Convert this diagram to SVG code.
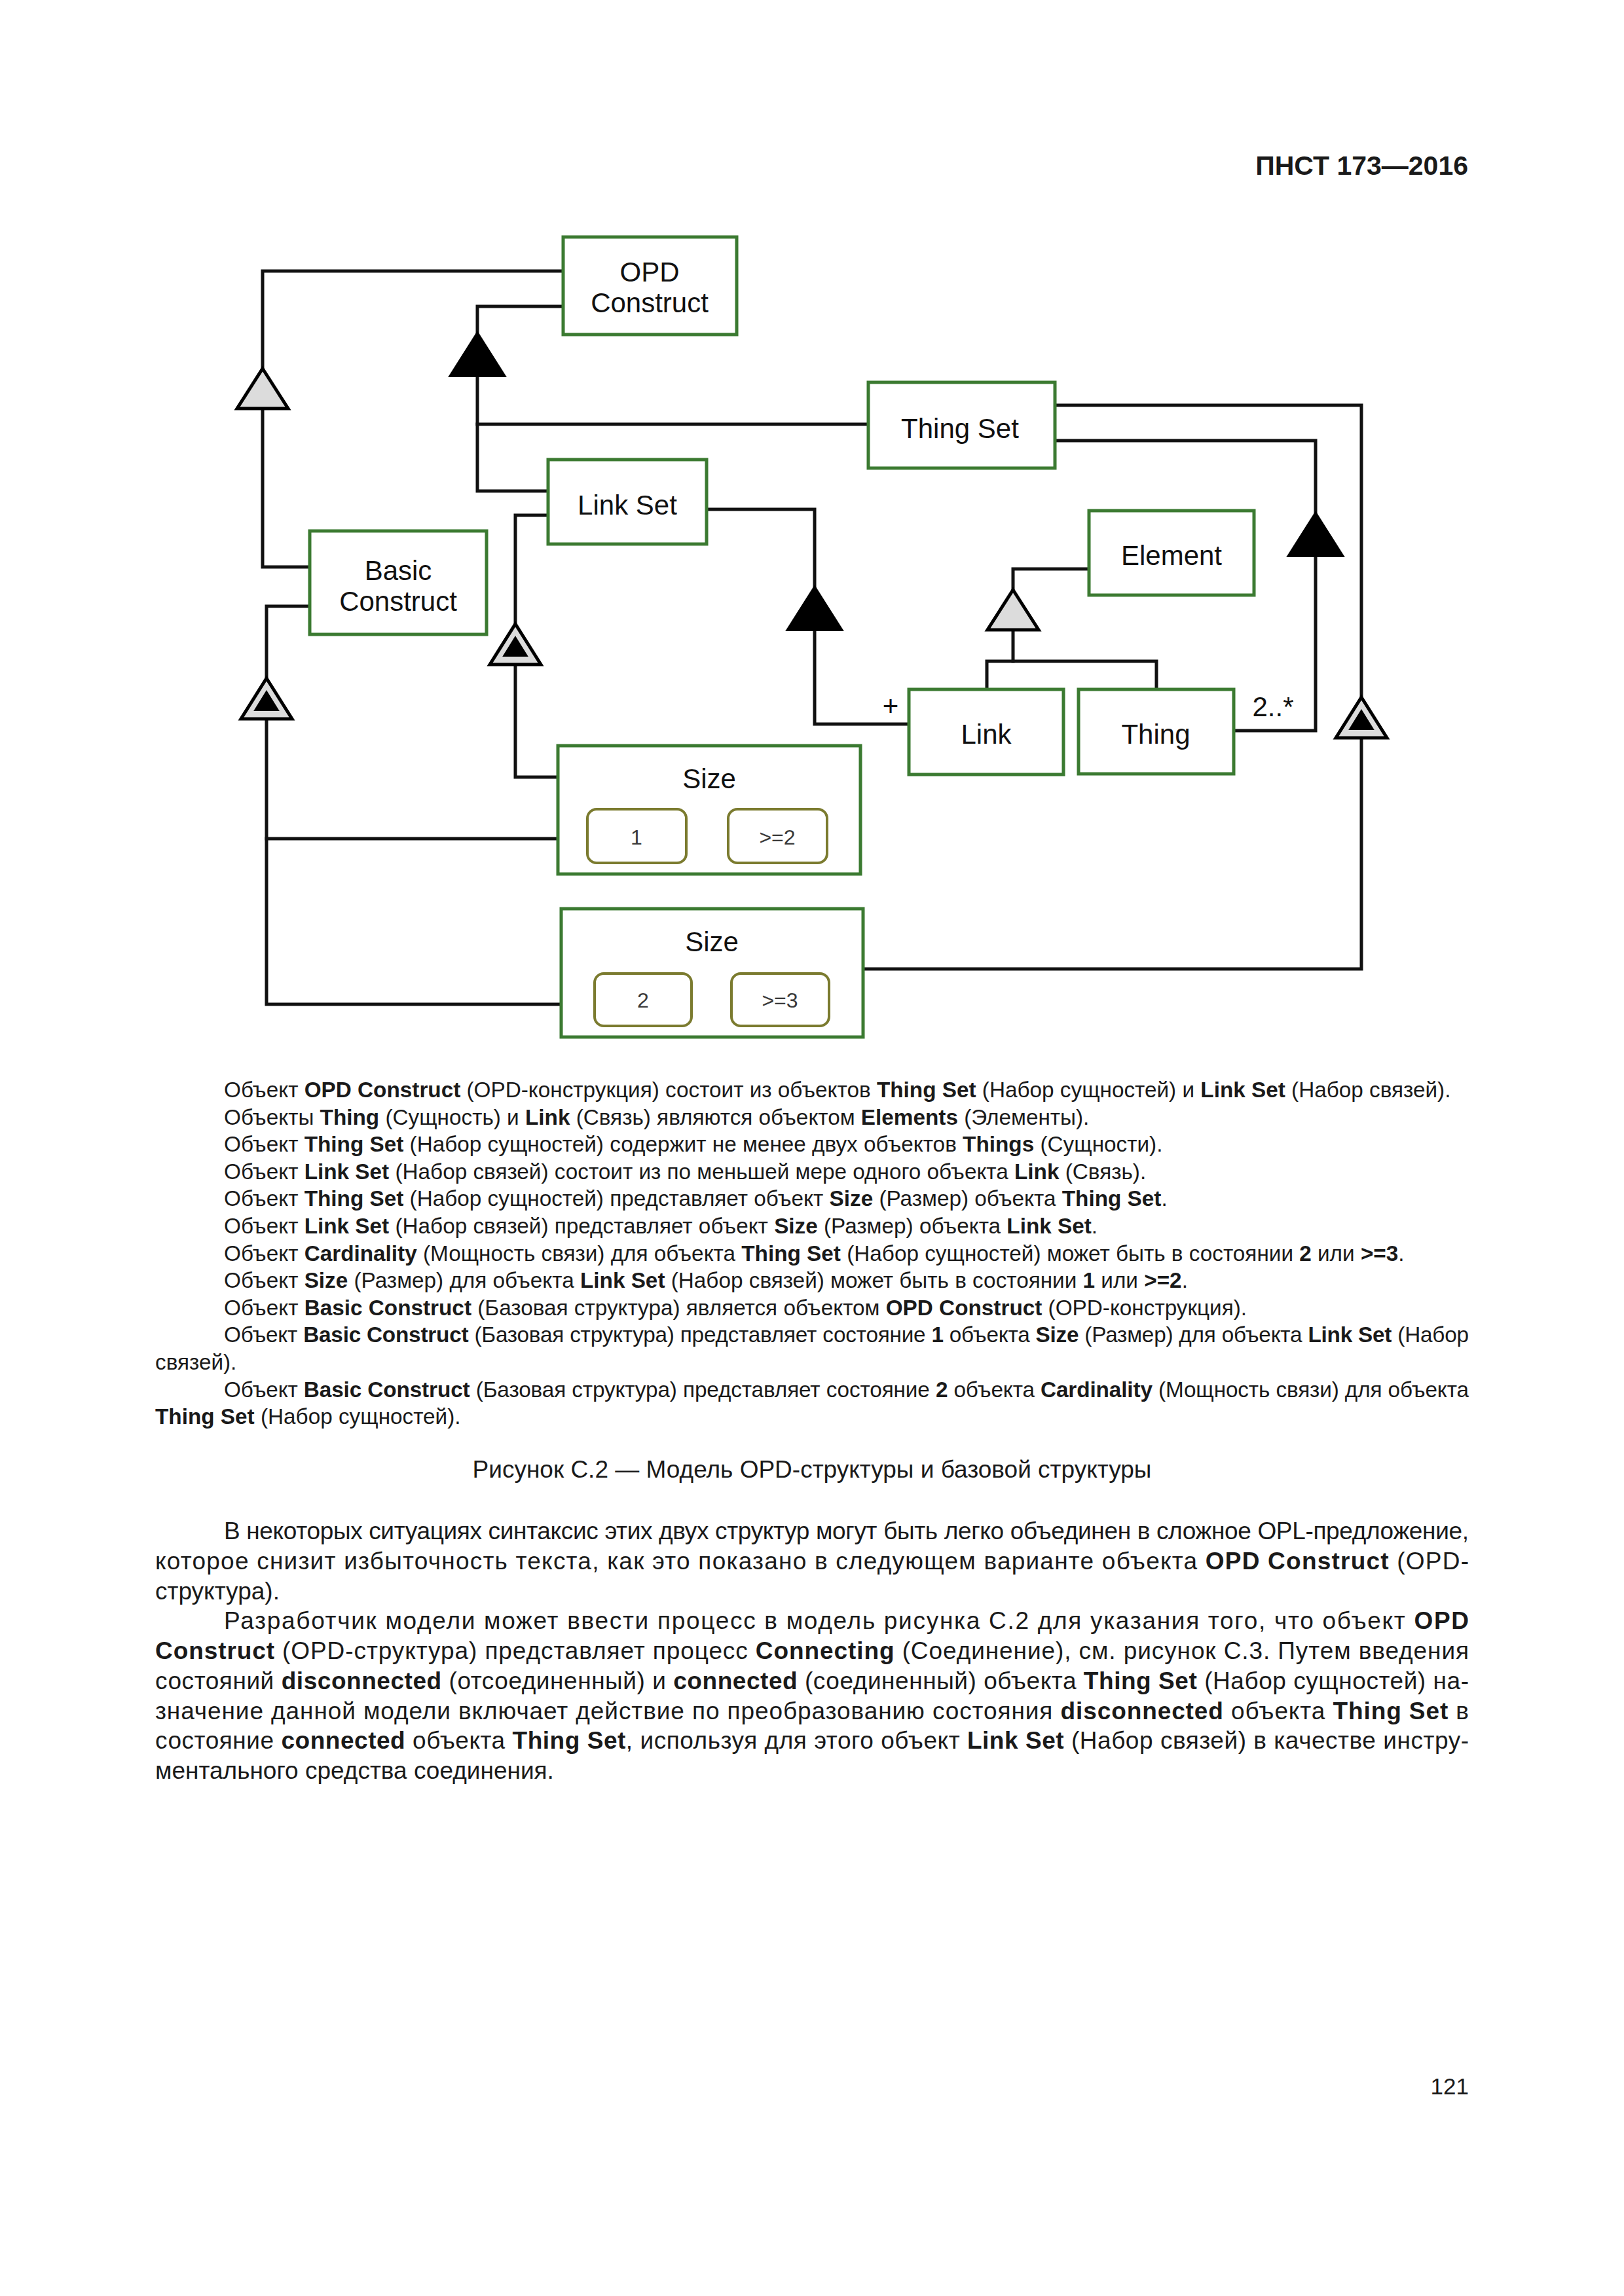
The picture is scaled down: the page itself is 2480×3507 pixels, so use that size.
<svg xmlns="http://www.w3.org/2000/svg" xmlns:xlink="http://www.w3.org/1999/xlink" width="2480" height="3507" viewBox="0 0 2480 3507">
<style>
.box{fill:#fff;stroke:#3b7a31;stroke-width:5}
.state{fill:#fff;stroke:#7b7b2f;stroke-width:4}
.lbl{font-family:"Liberation Sans",Arial,sans-serif;font-size:42px;fill:#111;text-anchor:middle}
.st{font-family:"Liberation Sans",Arial,sans-serif;font-size:32px;fill:#3a3a3a;text-anchor:middle}
.c{fill:none;stroke:#111;stroke-width:5;stroke-linejoin:miter;stroke-linecap:square}
.tb{fill:#000;stroke:#000;stroke-width:2;stroke-linejoin:miter}
.tg{fill:#dcdcdc;stroke:#000;stroke-width:5;stroke-linejoin:miter}
.t{font-family:"Liberation Sans",Arial,sans-serif;font-size:33.3px;fill:#1a1a1a}
.p{font-family:"Liberation Sans",Arial,sans-serif;font-size:37px;fill:#1a1a1a}
.b{font-weight:bold}
</style>
<defs>
<path id="triBlack" d="M0,0 L43,68 L-43,68 Z"/>
<path id="triGrey" d="M0,3 L39,64 L-39,64 Z"/>
<g id="triDouble">
<path class="tg" d="M0,3 L39,65 L-39,65 Z"/>
<path class="tb" d="M0,23 L18,52 L-18,52 Z"/>
</g>
</defs>
<rect width="2480" height="3507" fill="#fff"/>

<text x="2242" y="267" font-family="Liberation Sans, Arial, sans-serif" font-size="41" font-weight="bold" fill="#1a1a1a" text-anchor="end">ПНСТ 173—2016</text>

<g id="connectors">
<path class="c" d="M860,414 H401 V563"/>
<path class="c" d="M401,626 V866 H473"/>
<path class="c" d="M860,468 H729 V510"/>
<path class="c" d="M729,575 V750 H837"/>
<path class="c" d="M729,648 H1326"/>
<path class="c" d="M837,787 H787 V953"/>
<path class="c" d="M787,1016 V1187 H852"/>
<path class="c" d="M1079,778 H1244 V899"/>
<path class="c" d="M1244,962 V1106 H1388"/>
<path class="c" d="M1663,869 H1547 V900"/>
<path class="c" d="M1547,964 V1010"/>
<path class="c" d="M1507,1053 V1010 H1766 V1053"/>
<path class="c" d="M1611,673 H2009 V785"/>
<path class="c" d="M2009,850 V1116 H1884"/>
<path class="c" d="M1611,619 H2079 V1065"/>
<path class="c" d="M2079,1128 V1480 H1318"/>
<path class="c" d="M473,926 H407 V1036"/>
<path class="c" d="M407,1101 V1534 H908"/>
<path class="c" d="M407,1281 H897"/>
<use xlink:href="#triGrey" class="tg" x="401" y="560"/>
<use xlink:href="#triBlack" class="tb" x="729" y="507"/>
<use xlink:href="#triDouble" x="787" y="950"/>
<use xlink:href="#triBlack" class="tb" x="1244" y="895"/>
<use xlink:href="#triGrey" class="tg" x="1547" y="898"/>
<use xlink:href="#triBlack" class="tb" x="2009" y="782"/>
<use xlink:href="#triDouble" x="2079" y="1062"/>
<use xlink:href="#triDouble" x="407" y="1033"/>
<text class="lbl" x="1360" y="1093">+</text>
<text class="lbl" x="1944" y="1094">2..*</text>
</g>

<g id="opd-construct">
<rect class="box" x="860" y="362" width="265" height="149"/>
<text class="lbl" x="992" y="430">OPD</text>
<text class="lbl" x="992" y="477">Construct</text>
</g>
<g id="thing-set">
<rect class="box" x="1326" y="584" width="285" height="131"/>
<text class="lbl" x="1466" y="669">Thing Set</text>
</g>
<g id="link-set">
<rect class="box" x="837" y="702" width="242" height="129"/>
<text class="lbl" x="958" y="786">Link Set</text>
</g>
<g id="basic-construct">
<rect class="box" x="473" y="811" width="270" height="158"/>
<text class="lbl" x="608" y="886">Basic</text>
<text class="lbl" x="608" y="933">Construct</text>
</g>
<g id="element">
<rect class="box" x="1663" y="780" width="252" height="129"/>
<text class="lbl" x="1789" y="863">Element</text>
</g>
<g id="link">
<rect class="box" x="1388" y="1053" width="236" height="130"/>
<text class="lbl" x="1506" y="1136">Link</text>
</g>
<g id="thing">
<rect class="box" x="1647" y="1053" width="237" height="129"/>
<text class="lbl" x="1765" y="1136">Thing</text>
</g>
<g id="size-linkset">
<rect class="box" x="852" y="1139" width="462" height="196"/>
<text class="lbl" x="1083" y="1204">Size</text>
<rect class="state" x="897" y="1236" width="151" height="82" rx="14"/>
<text class="st" x="972" y="1290">1</text>
<rect class="state" x="1112" y="1236" width="151" height="82" rx="14"/>
<text class="st" x="1187" y="1290">&gt;=2</text>
</g>
<g id="size-thingset">
<rect class="box" x="857" y="1388" width="461" height="196"/>
<text class="lbl" x="1087" y="1453">Size</text>
<rect class="state" x="908" y="1487" width="148" height="80" rx="14"/>
<text class="st" x="982" y="1539">2</text>
<rect class="state" x="1117" y="1487" width="149" height="80" rx="14"/>
<text class="st" x="1191" y="1539">&gt;=3</text>
</g>

<g id="legend">
<text class="t" x="342" y="1676">Объект <tspan class="b">OPD Construct</tspan> (OPD-конструкция) состоит из объектов <tspan class="b">Thing Set</tspan> (Набор сущностей) и <tspan class="b">Link Set</tspan> (Набор связей).</text>
<text class="t" x="342" y="1718">Объекты <tspan class="b">Thing</tspan> (Сущность) и <tspan class="b">Link</tspan> (Связь) являются объектом <tspan class="b">Elements</tspan> (Элементы).</text>
<text class="t" x="342" y="1759">Объект <tspan class="b">Thing Set</tspan> (Набор сущностей) содержит не менее двух объектов <tspan class="b">Things</tspan> (Сущности).</text>
<text class="t" x="342" y="1801">Объект <tspan class="b">Link Set</tspan> (Набор связей) состоит из по меньшей мере одного объекта <tspan class="b">Link</tspan> (Связь).</text>
<text class="t" x="342" y="1842">Объект <tspan class="b">Thing Set</tspan> (Набор сущностей) представляет объект <tspan class="b">Size</tspan> (Размер) объекта <tspan class="b">Thing Set</tspan>.</text>
<text class="t" x="342" y="1884">Объект <tspan class="b">Link Set</tspan> (Набор связей) представляет объект <tspan class="b">Size</tspan> (Размер) объекта <tspan class="b">Link Set</tspan>.</text>
<text class="t" x="342" y="1926">Объект <tspan class="b">Cardinality</tspan> (Мощность связи) для объекта <tspan class="b">Thing Set</tspan> (Набор сущностей) может быть в состоянии <tspan class="b">2</tspan> или <tspan class="b">&gt;=3</tspan>.</text>
<text class="t" x="342" y="1967">Объект <tspan class="b">Size</tspan> (Размер) для объекта <tspan class="b">Link Set</tspan> (Набор связей) может быть в состоянии <tspan class="b">1</tspan> или <tspan class="b">&gt;=2</tspan>.</text>
<text class="t" x="342" y="2009">Объект <tspan class="b">Basic Construct</tspan> (Базовая структура) является объектом <tspan class="b">OPD Construct</tspan> (OPD-конструкция).</text>
<text class="t" x="342" y="2050" textLength="1901" lengthAdjust="spacing">Объект <tspan class="b">Basic Construct</tspan> (Базовая структура) представляет состояние <tspan class="b">1</tspan> объекта <tspan class="b">Size</tspan> (Размер) для объекта <tspan class="b">Link Set</tspan> (Набор</text>
<text class="t" x="237" y="2092">связей).</text>
<text class="t" x="342" y="2134" textLength="1901" lengthAdjust="spacing">Объект <tspan class="b">Basic Construct</tspan> (Базовая структура) представляет состояние <tspan class="b">2</tspan> объекта <tspan class="b">Cardinality</tspan> (Мощность связи) для объекта</text>
<text class="t" x="237" y="2175"><tspan class="b">Thing Set</tspan> (Набор сущностей).</text>
</g>

<text class="p" x="1240" y="2257" text-anchor="middle" font-size="37.5">Рисунок С.2 — Модель OPD-структуры и базовой структуры</text>

<g id="paragraph">
<text class="p" x="342" y="2351" textLength="1901" lengthAdjust="spacing">В некоторых ситуациях синтаксис этих двух структур могут быть легко объединен в сложное OPL-предложение,</text>
<text class="p" x="237" y="2397" textLength="2006" lengthAdjust="spacing">которое снизит избыточность текста, как это показано в следующем варианте объекта <tspan class="b">OPD Construct</tspan> (OPD-</text>
<text class="p" x="237" y="2443">структура).</text>
<text class="p" x="342" y="2488" textLength="1901" lengthAdjust="spacing">Разработчик модели может ввести процесс в модель рисунка С.2 для указания того, что объект <tspan class="b">OPD</tspan></text>
<text class="p" x="237" y="2534" textLength="2006" lengthAdjust="spacing"><tspan class="b">Construct</tspan> (OPD-структура) представляет процесс <tspan class="b">Connecting</tspan> (Соединение), см. рисунок С.3. Путем введения</text>
<text class="p" x="237" y="2580" textLength="2006" lengthAdjust="spacing">состояний <tspan class="b">disconnected</tspan> (отсоединенный) и <tspan class="b">connected</tspan> (соединенный) объекта <tspan class="b">Thing Set</tspan> (Набор сущностей) на-</text>
<text class="p" x="237" y="2626" textLength="2006" lengthAdjust="spacing">значение данной модели включает действие по преобразованию состояния <tspan class="b">disconnected</tspan> объекта <tspan class="b">Thing Set</tspan> в</text>
<text class="p" x="237" y="2671" textLength="2006" lengthAdjust="spacing">состояние <tspan class="b">connected</tspan> объекта <tspan class="b">Thing Set</tspan>, используя для этого объект <tspan class="b">Link Set</tspan> (Набор связей) в качестве инстру-</text>
<text class="p" x="237" y="2717">ментального средства соединения.</text>
</g>

<text x="2243" y="3199" font-family="Liberation Sans, Arial, sans-serif" font-size="35" fill="#1a1a1a" text-anchor="end">121</text>
</svg>
